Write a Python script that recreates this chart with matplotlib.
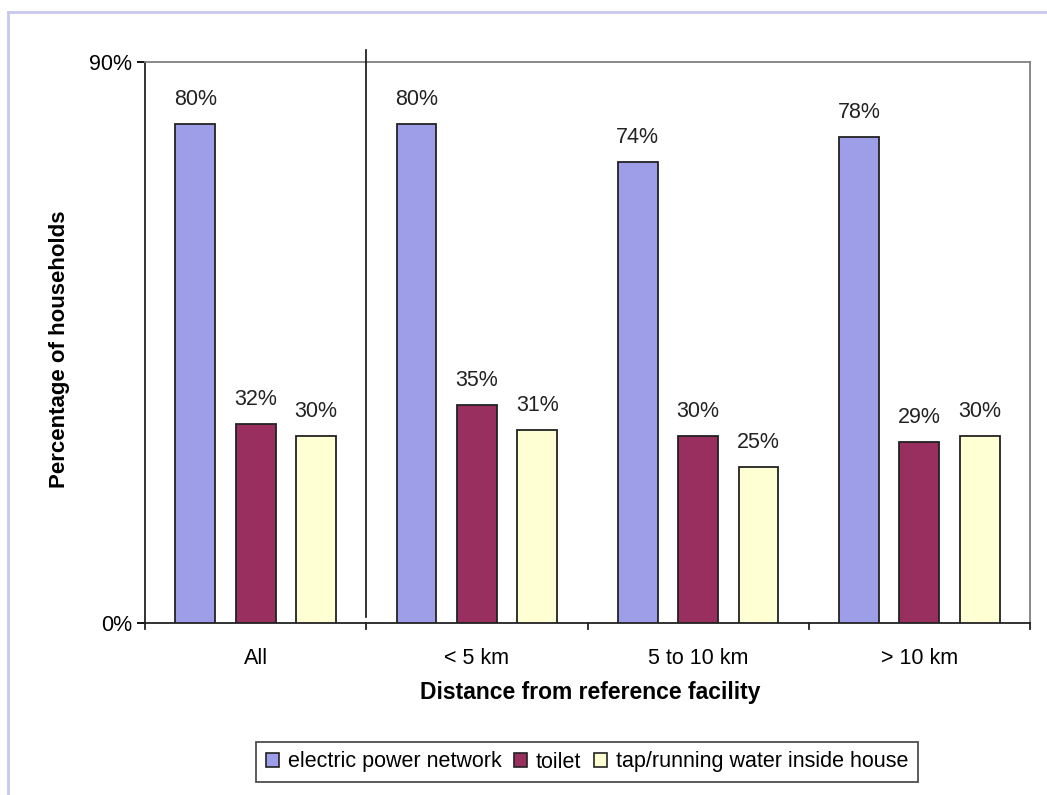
import matplotlib
matplotlib.use("Agg")
import matplotlib.pyplot as plt
from matplotlib.lines import Line2D
import numpy as np

categories = ["All", "< 5 km", "5 to 10 km", "> 10 km"]
series_names = ["electric power network", "toilet", "tap/running water inside house"]
electric = [80, 80, 74, 78]
toilet = [32, 35, 30, 29]
tap = [30, 31, 25, 30]
colors = ["#9E9EE8", "#982F5F", "#FFFFD4"]
ytick_vals = [0, 90]
ytick_labels = ["0%", "90%"]

plt.rcParams['font.family'] = ['Liberation Sans', 'DejaVu Sans']

W, H = 1047, 795
fig = plt.figure(figsize=(W / 100, H / 100), dpi=100)
ax = fig.add_axes([145 / W, 1 - 623 / H, (1030 - 145) / W, (623 - 62) / H])

FS = 15.5
x = np.arange(len(categories))
bw = 0.18
offs = [-0.273, 0.0, 0.273]
for vals, off, c, name in zip([electric, toilet, tap], offs, colors, series_names):
    ax.bar(x + off, vals, width=bw, color=c, edgecolor="#222222", linewidth=1.3, label=name, zorder=3)
    for xi, v in zip(x + off, vals):
        ax.annotate(f"{v}%", (xi, v), xytext=(0, 10), textcoords="offset points",
                    ha="center", va="bottom", fontsize=FS, color="#222222")

ax.set_xlim(-0.5, len(categories) - 0.5)
ax.set_ylim(0, 90)
ax.set_yticks(ytick_vals)
ax.set_yticklabels(ytick_labels, fontsize=FS)
ax.set_xticks(x)
ax.set_xticklabels(categories, fontsize=FS)
ax.tick_params(axis="x", length=0, pad=18)
ax.tick_params(axis="y", length=6, width=1.3, pad=3)
for b in np.arange(-0.5, len(categories), 1.0):
    ax.plot([b, b], [0, -1.0], color="#222222", lw=1.3, clip_on=False, zorder=4)
ax.plot([0.5, 0.5], [1.0, 91.9], color="#111111", lw=1.2, clip_on=False, zorder=4)

for s in ["left", "bottom"]:
    ax.spines[s].set_color("#222222")
    ax.spines[s].set_linewidth(1.3)
for s in ["top", "right"]:
    ax.spines[s].set_color("#808080")
    ax.spines[s].set_linewidth(1.3)

ax.set_xlabel("Distance from reference facility", fontsize=16.5, fontweight="bold")
ax.xaxis.set_label_coords((590 - 145) / 885, -(693 - 623) / 561)
ax.xaxis.label.set_va("center")
ax.set_ylabel("Percentage of households", fontsize=16, fontweight="bold")
ax.yaxis.set_label_coords((60 - 145) / 885, (623 - 349) / 561)
ax.yaxis.label.set_va("center")

handles = [plt.Rectangle((0, 0), 1, 1, facecolor=c, edgecolor="#222222", linewidth=1.2) for c in colors]
leg = fig.legend(handles, series_names, loc="center", bbox_to_anchor=(587 / W, 1 - 762 / H), ncol=3,
                 frameon=True, fancybox=False, edgecolor="#222222", fontsize=FS,
                 handlelength=0.6, handleheight=0.6, handletextpad=0.4, columnspacing=0.6,
                 borderpad=0.45)
leg.get_frame().set_linewidth(1.3)

fig.add_artist(Line2D([8 / W, 8 / W], [0, 1 - 12 / H], color="#C8C8F0", lw=2, transform=fig.transFigure))
fig.add_artist(Line2D([8 / W, 1], [1 - 12 / H, 1 - 12 / H], color="#C8C8F0", lw=2, transform=fig.transFigure))

fig.savefig("out.png", dpi=100)
